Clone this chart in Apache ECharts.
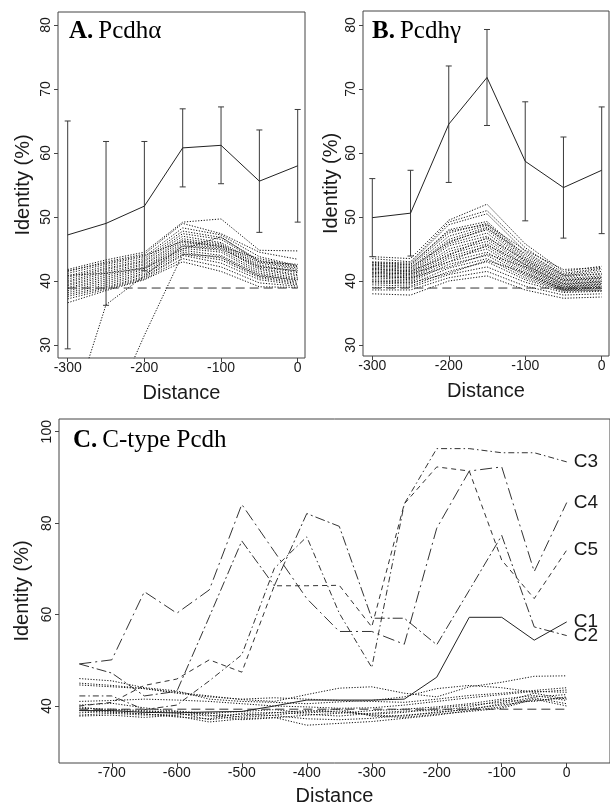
<!DOCTYPE html>
<html><head><meta charset="utf-8">
<script src="https://cdn.jsdelivr.net/npm/echarts@6/dist/echarts.min.js"></script>
<style>html,body{margin:0;padding:0;background:#fff}#c{width:610px;height:808px}</style>
</head><body><div id="c"></div>
<script>
// ---------- data ----------
const distAB = [-300, -250, -200, -150, -100, -50, 0];
const aMean = [47.2, 49.0, 51.7, 60.8, 61.2, 55.6, 58.0];
const aHalf = [17.8, 12.8, 10.1, 6.1, 6.0, 8.0, 8.8];
const bMean = [49.9, 50.6, 64.5, 71.8, 58.7, 54.6, 57.3];
const bHalf = [6.1, 6.7, 9.1, 7.5, 9.3, 7.9, 9.9];
const aBaseline = 38.9;
const bBaseline = 38.9;
const aDotted = [
  [41.8, 43.3, 44.5, 49.2, 49.7, 44.8, 44.7],
  [41.5, 43.0, 44.2, 49.0, 47.4, 44.5, 43.4],
  [41.2, 42.6, 43.8, 48.3, 47.2, 43.8, 42.4],
  [40.8, 42.3, 43.5, 47.8, 46.8, 43.2, 42.2],
  [40.6, 42.0, 43.2, 47.4, 46.5, 43.0, 42.0],
  [40.3, 41.8, 43.0, 47.0, 46.0, 42.8, 41.8],
  [40.0, 41.5, 42.7, 46.6, 45.8, 42.5, 41.5],
  [39.8, 41.2, 42.5, 46.3, 45.6, 42.3, 41.3],
  [39.5, 40.9, 42.2, 46.0, 45.4, 42.0, 41.0],
  [39.3, 40.6, 42.0, 45.7, 45.2, 41.8, 40.8],
  [39.0, 40.3, 41.8, 45.4, 44.8, 41.5, 40.5],
  [38.8, 40.0, 41.5, 45.1, 44.5, 41.2, 40.3],
  [38.5, 39.7, 41.2, 44.8, 44.0, 41.0, 40.0],
  [38.2, 39.4, 41.0, 44.5, 43.6, 40.7, 39.8],
  [37.9, 39.1, 40.7, 44.2, 43.3, 40.5, 39.6],
  [37.6, 38.9, 40.5, 44.0, 42.8, 40.2, 39.4],
  [37.2, 38.7, 40.3, 43.5, 42.2, 39.7, 39.2],
  [36.6, 38.5, 40.2, 43.0, 41.5, 39.1, 39.0],
  [40.9, 41.2, 42.0, 45.0, 46.9, 43.0, 42.6],
  [41.6, 42.8, 44.0, 46.2, 45.4, 43.5, 42.3],
  [17.5, 36.3, 40.8, 45.5, 45.0, 42.2, 41.6],
  [5.0, 18.0, 31.5, 44.2, 43.8, 40.8, 40.2]
];
const bDotted = [
  [43.8, 43.5, 49.5, 52.0, 45.8, 41.5, 42.3],
  [43.5, 43.0, 49.2, 51.0, 45.2, 41.2, 42.0],
  [43.0, 42.8, 48.8, 50.5, 44.6, 41.0, 41.8],
  [42.8, 42.5, 48.0, 49.3, 44.0, 40.8, 41.5],
  [42.6, 42.3, 47.5, 49.0, 43.7, 40.6, 41.2],
  [42.4, 42.0, 47.0, 48.7, 43.5, 40.4, 40.8],
  [42.2, 41.8, 46.5, 48.4, 43.2, 40.2, 40.6],
  [42.0, 41.6, 46.2, 48.0, 43.0, 40.0, 40.4],
  [41.8, 41.4, 45.8, 47.5, 42.8, 39.8, 40.2],
  [41.6, 41.2, 45.5, 47.0, 42.5, 39.6, 40.0],
  [41.4, 41.0, 45.0, 46.6, 42.3, 39.4, 39.8],
  [41.2, 40.8, 44.6, 46.2, 42.0, 39.2, 39.6],
  [41.0, 40.6, 44.2, 45.8, 41.8, 39.0, 39.4],
  [40.8, 40.4, 43.8, 45.4, 41.5, 38.9, 39.2],
  [40.5, 40.2, 43.5, 45.0, 41.2, 38.8, 39.0],
  [40.2, 40.0, 43.0, 44.5, 41.0, 38.7, 38.9],
  [40.0, 39.8, 42.6, 44.0, 40.8, 38.6, 38.8],
  [39.7, 39.5, 42.0, 43.5, 40.5, 38.5, 38.6],
  [39.4, 39.2, 41.5, 43.0, 40.2, 38.4, 38.5],
  [39.0, 39.0, 41.0, 42.2, 39.8, 38.2, 38.4],
  [38.6, 38.6, 40.5, 41.5, 39.2, 37.8, 38.0],
  [38.0, 37.8, 40.0, 40.8, 38.6, 37.3, 37.5],
  [42.9, 42.6, 47.8, 48.8, 44.8, 41.8, 42.1],
  [42.5, 42.1, 46.0, 48.2, 44.3, 40.9, 41.0],
  [41.9, 41.5, 44.0, 46.8, 43.3, 40.1, 40.5],
  [41.3, 41.1, 43.0, 45.6, 42.6, 39.5, 39.9],
  [40.7, 40.5, 42.2, 44.2, 42.2, 39.1, 39.5],
  [39.9, 39.7, 41.2, 43.2, 41.3, 38.7, 39.1]
];
const distC = [-750, -700, -650, -600, -550, -500, -450, -400, -350, -300, -250, -200, -150, -100, -50, 0];
const c1 = [39.0, 39.0, 38.6, 38.5, 38.7, 38.8, 40.0, 41.3, 41.3, 41.3, 41.5, 46.3, 59.4, 59.4, 54.4, 58.4];
const c2 = [49.2, 47.2, 42.2, 43.2, 59.5, 76.1, 66.3, 82.1, 79.3, 59.2, 59.2, 53.4, 65.3, 77.3, 57.3, 55.4];
const c3 = [42.2, 42.2, 39.2, 40.2, 45.5, 51.2, 70.1, 77.0, 60.3, 48.4, 84.2, 96.3, 96.3, 95.4, 95.4, 93.4];
const c4 = [49.2, 50.1, 65.0, 60.3, 65.4, 84.1, 73.8, 63.5, 56.3, 56.3, 53.5, 78.9, 91.4, 92.3, 69.4, 84.5];
const c5 = [40.0, 40.8, 44.5, 45.9, 50.1, 47.4, 66.3, 66.3, 66.4, 57.3, 84.2, 92.3, 91.4, 71.9, 63.5, 74.1];
const cNames = ['C1', 'C2', 'C3', 'C4', 'C5'];
const cBaseline = 39.3;
const cDotted = [
  [44.6, 44.2, 43.8, 43.0, 42.2, 41.4, 41.0, 42.5, 43.9, 44.2, 42.8, 42.0, 44.2, 45.2, 46.5, 46.6],
  [46.0, 45.5, 44.0, 43.3, 41.5, 41.0, 40.8, 40.5, 40.9, 41.2, 42.0, 43.8, 44.5, 44.0, 43.0, 43.5],
  [41.0, 41.2, 41.5, 41.3, 41.0, 40.5, 40.0, 39.8, 39.5, 39.6, 40.2, 41.0, 41.8, 42.5, 43.2, 43.0],
  [39.5, 39.3, 39.0, 38.5, 37.0, 37.8, 38.5, 39.0, 38.6, 38.2, 38.6, 39.5, 40.2, 40.8, 42.8, 41.5],
  [38.5, 38.8, 38.2, 37.8, 36.5, 37.2, 37.5, 35.8, 36.2, 36.6, 37.3, 38.0, 39.0, 39.8, 41.8, 40.5],
  [38.0, 38.4, 38.0, 38.3, 37.8, 38.2, 37.9, 37.2, 37.0, 37.3, 38.0, 38.5, 39.4, 40.2, 41.2, 41.8],
  [39.8, 39.0, 38.8, 38.9, 38.4, 38.8, 39.2, 38.5, 38.9, 38.0, 37.8, 38.7, 39.2, 40.5, 42.0, 42.5],
  [37.8, 38.0, 37.5, 38.0, 38.5, 37.5, 38.0, 38.8, 39.3, 37.8, 37.5, 38.2, 38.8, 39.5, 41.5, 40.0],
  [39.0, 38.6, 38.3, 37.6, 37.2, 38.4, 38.6, 38.2, 37.8, 38.4, 38.9, 39.0, 39.8, 41.2, 41.0, 42.0],
  [40.2, 40.6, 39.6, 38.8, 38.0, 37.0, 37.4, 38.0, 38.4, 39.0, 39.3, 39.8, 40.5, 41.5, 42.3, 41.2],
  [45.0, 44.5, 43.8, 42.8, 42.0, 41.5, 41.8, 41.5, 41.2, 41.0, 40.8, 41.5, 42.3, 42.8, 43.4, 44.0]
];
const xTicksAB = [-300, -200, -100, 0];
const yTicksAB = [30, 40, 50, 60, 70, 80];
const xTicksC = [-700, -600, -500, -400, -300, -200, -100, 0];
const yTicksC = [40, 60, 80, 100];

// ---------- chart ----------
const SANS = 'Liberation Sans';
const SERIF = 'Liberation Serif';
const INK = '#1a1a1a';
const pairs = (xs, ys) => xs.map((x, i) => [x, ys[i]]);

function xAx(gi, min, max, ticks, gap) {
  return {
    type: 'value', gridIndex: gi, min: min, max: max, position: 'bottom',
    name: 'Distance', nameLocation: 'middle', nameGap: gap,
    nameTextStyle: { fontFamily: SANS, fontSize: 20, color: INK },
    axisLine: { show: false, onZero: false },
    axisTick: { show: true, length: 4, customValues: ticks, lineStyle: { color: '#444' } },
    axisLabel: { customValues: ticks, margin: 3, fontFamily: SANS, fontSize: 14, color: INK },
    splitLine: { show: false }
  };
}
function yAx(gi, min, max, ticks, gap) {
  return {
    type: 'value', gridIndex: gi, min: min, max: max, position: 'left',
    name: 'Identity (%)', nameLocation: 'middle', nameGap: gap, nameRotate: 90,
    nameTextStyle: { fontFamily: SANS, fontSize: 20, color: INK },
    axisLine: { show: false, onZero: false },
    axisTick: { show: true, length: 4, customValues: ticks, lineStyle: { color: '#444' } },
    axisLabel: { customValues: ticks, rotate: 90, margin: 5, fontFamily: SANS, fontSize: 14, color: INK },
    splitLine: { show: false }
  };
}
function lineS(gi, xs, ys, style, extra) {
  return Object.assign({
    type: 'line', xAxisIndex: gi, yAxisIndex: gi, data: pairs(xs, ys),
    showSymbol: false, symbol: 'none', silent: true, clip: true,
    lineStyle: style
  }, extra || {});
}
function errBars(gi, means, halves) {
  return {
    type: 'custom', xAxisIndex: gi, yAxisIndex: gi, silent: true, z: 4,
    data: distAB.map((d, i) => [d, means[i] - halves[i], means[i] + halves[i]]),
    encode: { x: 0, y: [1, 2] },
    renderItem: function (params, api) {
      const x = api.value(0);
      const lo = api.coord([x, api.value(1)]);
      const hi = api.coord([x, api.value(2)]);
      const w = 3;
      const st = { stroke: '#3a3a3a', lineWidth: 1 };
      return {
        type: 'group', children: [
          { type: 'line', shape: { x1: lo[0], y1: lo[1], x2: hi[0], y2: hi[1] }, style: st },
          { type: 'line', shape: { x1: lo[0] - w, y1: lo[1], x2: lo[0] + w, y2: lo[1] }, style: st },
          { type: 'line', shape: { x1: hi[0] - w, y1: hi[1], x2: hi[0] + w, y2: hi[1] }, style: st }
        ]
      };
    }
  };
}

const dotStyle = { color: '#111', width: 1, type: [1.2, 1.6] };
const baseStyle = { color: '#333', width: 1, type: [9, 5] };
const series = [];
aDotted.forEach(v => series.push(lineS(0, distAB, v, dotStyle)));
bDotted.forEach(v => series.push(lineS(1, distAB, v, dotStyle)));
series.push(lineS(0, [-300, 0], [aBaseline, aBaseline], baseStyle));
series.push(lineS(1, [-300, 0], [bBaseline, bBaseline], baseStyle));
series.push(lineS(0, distAB, aMean, { color: '#222', width: 1 }, { z: 5 }));
series.push(lineS(1, distAB, bMean, { color: '#222', width: 1 }, { z: 5 }));
series.push(errBars(0, aMean, aHalf));
series.push(errBars(1, bMean, bHalf));

cDotted.forEach(v => series.push(lineS(2, distC, v, dotStyle)));
series.push(lineS(2, [-750, 0], [cBaseline, cBaseline], baseStyle));
const cSeries = [c1, c2, c3, c4, c5];
const cStyles = [
  { color: '#222', width: 1 },
  { color: '#333', width: 1, type: [10, 3, 2, 3] },
  { color: '#333', width: 1, type: [6, 3, 1.5, 3] },
  { color: '#333', width: 1, type: [12, 4, 2, 4] },
  { color: '#333', width: 1, type: [5, 4] }
];
cSeries.forEach((v, i) => series.push(lineS(2, distC, v, cStyles[i], {
  z: 5,
  endLabel: { show: true, formatter: cNames[i], distance: 7, fontFamily: SANS, fontSize: 19, color: INK }
})));

const titleRich = {
  b: { fontFamily: SERIF, fontWeight: 'bold', fontSize: 25, color: '#000' },
  n: { fontFamily: SERIF, fontWeight: 'normal', fontSize: 25, color: '#000' }
};

const option = {
  backgroundColor: '#fff',
  animation: false,
  title: [
    { text: '{b|A.} {n|Pcdhα}', left: 64, top: 14, textStyle: { fontWeight: 'normal', rich: titleRich } },
    { text: '{b|B.} {n|Pcdhγ}', left: 367, top: 14, textStyle: { fontWeight: 'normal', rich: titleRich } },
    { text: '{b|C.} {n|C-type Pcdh}', left: 68, top: 423, textStyle: { fontWeight: 'normal', rich: titleRich } }
  ],
  grid: [
    { left: 58, top: 12, width: 247, height: 346, show: true, borderColor: '#444', borderWidth: 1 },
    { left: 363, top: 11, width: 246, height: 345, show: true, borderColor: '#444', borderWidth: 1 },
    { left: 59, top: 419, width: 560, height: 344, show: true, borderColor: '#444', borderWidth: 1 }
  ],
  xAxis: [
    xAx(0, -312.65, 9.52, xTicksAB, 25),
    xAx(1, -312.16, 9.55, xTicksAB, 25),
    xAx(2, -781.3, 66.6, xTicksC, 23)
  ],
  yAxis: [
    yAx(0, 27.97, 82.03, yTicksAB, 25),
    yAx(1, 28.28, 82.19, yTicksAB, 22),
    yAx(2, 27.53, 102.78, yTicksC, 25)
  ],
  series: series
};
const chart = echarts.init(document.getElementById('c'), null, { renderer: 'canvas' });
chart.setOption(option);
</script>
</body></html>
